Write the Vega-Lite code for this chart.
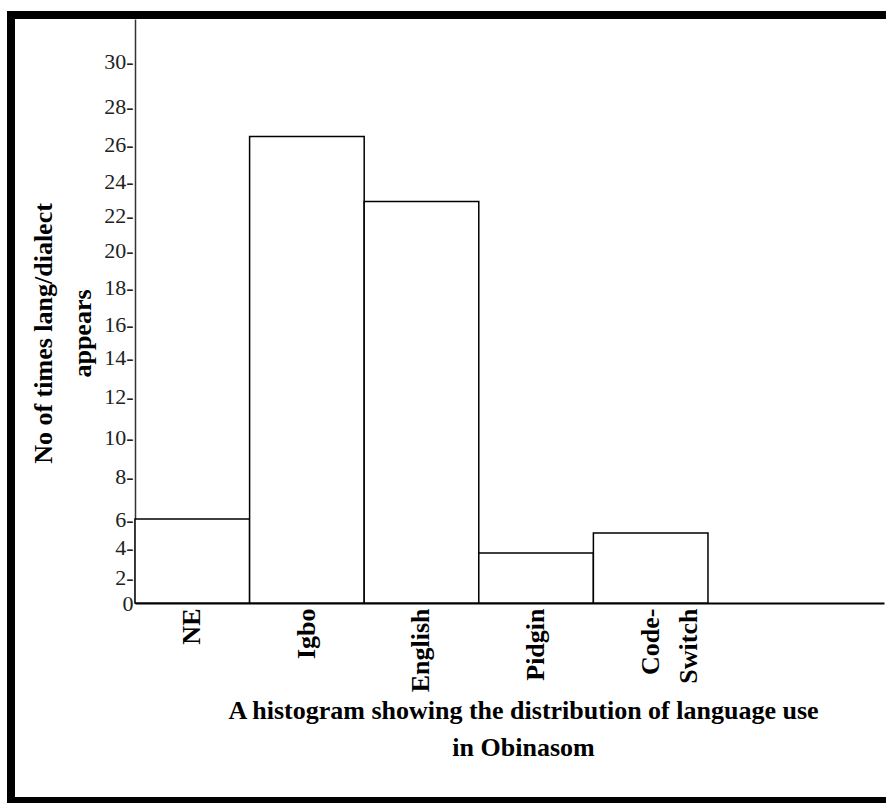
{
  "$schema": "https://vega.github.io/schema/vega-lite/v6.json",
  "width": 880,
  "height": 786,
  "autosize": {"type": "none"},
  "padding": {"left": 11, "top": 15, "right": -5, "bottom": 2},
  "background": "white",
  "config": {
    "view": {"stroke": "black", "strokeWidth": 8, "fill": "white"},
    "font": "Liberation Serif"
  },
  "data": {
    "values": [
      {"language": "NE", "count": 6},
      {"language": "Igbo", "count": 26.4},
      {"language": "English", "count": 22.8},
      {"language": "Pidgin", "count": 3.6},
      {"language": "Code-Switch", "count": 5}
    ]
  },
  "mark": {"type": "bar", "fill": "white", "stroke": "black", "strokeWidth": 1.5},
  "encoding": {
    "x": {
      "field": "language",
      "type": "nominal",
      "sort": null,
      "scale": {
        "type": "band",
        "domain": ["NE", "Igbo", "English", "Pidgin", "Code-Switch"],
        "range": [124, 873],
        "paddingInner": 0,
        "paddingOuter": 0.768,
        "align": 0
      },
      "axis": {
        "orient": "bottom",
        "offset": -198,
        "grid": false,
        "domainColor": "black",
        "domainWidth": 2,
        "ticks": false,
        "labelAngle": -90,
        "labelAlign": "right",
        "labelBaseline": "middle",
        "labelPadding": 5,
        "labelFont": "Liberation Serif",
        "labelFontSize": 26,
        "labelFontWeight": "bold",
        "labelColor": "black",
        "labelLineHeight": 38,
        "labelOverlap": false,
        "labelExpr": "datum.label === 'Code-Switch' ? ['Code-', 'Switch'] : datum.label",
        "title": ["A histogram showing the distribution of language use", "in Obinasom"],
        "titleFont": "Liberation Serif",
        "titleFontSize": 26,
        "titleFontWeight": "bold",
        "titleColor": "black",
        "titleX": 512,
        "titleY": 115,
        "titleAlign": "center",
        "titleBaseline": "alphabetic",
        "titleLineHeight": 37
      }
    },
    "y": {
      "field": "count",
      "type": "quantitative",
      "scale": {
        "domain": [0, 2, 4, 6, 8, 10, 12, 14, 16, 18, 20, 22, 24, 26, 28, 30, 32],
        "range": [588, 562, 532, 504, 461, 422, 381, 342, 309, 272, 235, 200, 166, 129, 91, 46, 4],
        "zero": false,
        "nice": false
      },
      "axis": {
        "orient": "left",
        "offset": -124,
        "grid": false,
        "values": [0, 2, 4, 6, 8, 10, 12, 14, 16, 18, 20, 22, 24, 26, 28, 30],
        "ticks": false,
        "domainColor": "#333333",
        "domainWidth": 1.5,
        "labelFont": "Liberation Serif",
        "labelFontSize": 22,
        "labelColor": "#222222",
        "labelPadding": 2,
        "labelBaseline": "middle",
        "labelOverlap": false,
        "labelExpr": "datum.value === 0 ? '0\u00a0' : datum.label + '-'",
        "title": ["No of times lang/dialect", "appears"],
        "titleFont": "Liberation Serif",
        "titleFontSize": 26,
        "titleFontWeight": "bold",
        "titleColor": "black",
        "titleAngle": -90,
        "titleX": -84,
        "titleY": 318,
        "titleAlign": "center",
        "titleBaseline": "alphabetic",
        "titleLineHeight": 39
      }
    }
  }
}
